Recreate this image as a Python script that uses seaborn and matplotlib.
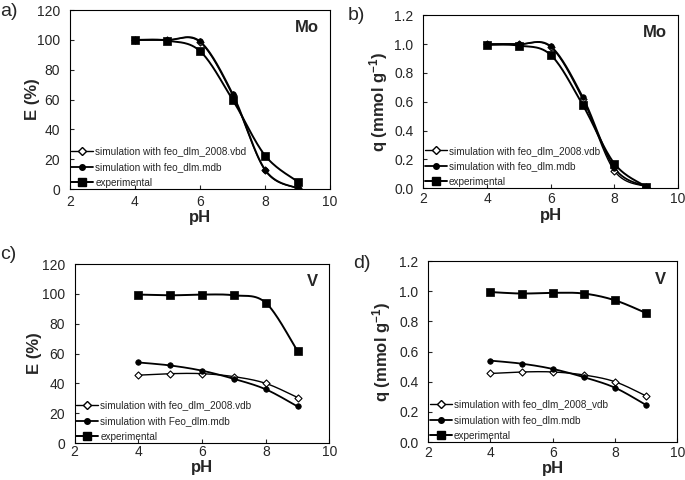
"""Mo / V removal vs pH: simulations against experiment, four panels."""

import matplotlib
matplotlib.use("Agg")
import matplotlib.pyplot as plt
from matplotlib.lines import Line2D
import numpy as np
import pandas as pd
import seaborn as sns

sns.set_theme(style="ticks")
plt.rcParams["font.family"] = ["Liberation Sans", "DejaVu Sans"]
plt.rcParams["mathtext.default"] = "regular"

ph = [4, 5, 6, 7, 8, 9]

# a) Mo, extraction %
mo_e_vbd = [100, 100, 98.5, 63, 12.5, 0.5]
mo_e_mdb = [100, 100, 99, 64, 13, 0.5]
mo_e_exp = [100, 99.5, 92.5, 60, 22.5, 5]

# b) Mo, uptake mmol/g
mo_q_vbd = [1.0, 1.0, 0.98, 0.62, 0.12, 0.01]
mo_q_mdb = [1.0, 1.0, 0.985, 0.635, 0.14, 0.01]
mo_q_exp = [0.995, 0.99, 0.925, 0.58, 0.17, 0.01]

# c) V, extraction %
v_e_vdb = [45.5, 46.5, 46.5, 44.5, 40, 30.5]
v_e_mdb = [54, 52, 48.5, 43, 36, 24.5]
v_e_exp = [99.5, 99, 99.5, 99, 94, 61.5]

# d) V, uptake mmol/g
v_q_vdb = [0.455, 0.465, 0.465, 0.445, 0.40, 0.305]
v_q_mdb = [0.54, 0.52, 0.485, 0.43, 0.36, 0.245]
v_q_exp = [0.995, 0.985, 0.99, 0.985, 0.94, 0.855]

labels_a = ["simulation with feo_dlm_2008.vbd", "simulation with feo_dlm.mdb", "experimental"]
labels_b = ["simulation with feo_dlm_2008.vdb", "simulation with feo_dlm.mdb", "experimental"]
labels_c = ["simulation with feo_dlm_2008.vdb", "simulation with Feo_dlm.mdb", "experimental"]
labels_d = ["simulation with feo_dlm_2008_vdb", "simulation with feo_dlm.mdb", "experimental"]


def smooth(x, y, n=30):
    """Excel-style smoothed line (Catmull-Rom Bezier through the points)."""
    p = np.column_stack([x, y]).astype(float)
    p = np.vstack([p[0], p, p[-1]])
    t = np.linspace(0, 1, n)[:, None]
    out = []
    for i in range(1, len(p) - 2):
        p0, p1, p2, p3 = p[i - 1], p[i], p[i + 1], p[i + 2]
        c1 = p1 + (p2 - p0) / 6
        c2 = p2 - (p3 - p1) / 6
        seg = ((1 - t) ** 3) * p1 + 3 * ((1 - t) ** 2) * t * c1 + 3 * (1 - t) * t ** 2 * c2 + t ** 3 * p2
        out.append(seg)
    out = np.vstack(out)
    return out[:, 0], out[:, 1]


STYLES = [
    dict(marker="D", s=13, facecolor="white", edgecolor="black", linewidth=0.8),
    dict(marker="o", s=16, facecolor="black", edgecolor="black", linewidth=0.5),
    dict(marker="s", s=30, facecolor="black", edgecolor="black", linewidth=0.5),
]
LW = [1.0, 1.3, 1.4]


def panel(ax, series, labels, ylim, yticks, ylabel, metal, fmt, xpad, ylab_x, xlab_y):
    for vals, lw in zip(series, LW):
        sx, sy = smooth(ph, vals)
        sns.lineplot(x=sx, y=sy, ax=ax, color="black", linewidth=lw, sort=False, estimator=None)
    for vals, st in zip(series, STYLES):
        df = pd.DataFrame({"pH": ph, "v": vals})
        sns.scatterplot(data=df, x="pH", y="v", ax=ax, zorder=3, **st)

    ax.set_xlim(2, 10)
    ax.set_ylim(*ylim)
    ax.set_xticks([2, 4, 6, 8, 10])
    ax.set_yticks(yticks)
    ax.set_yticklabels([fmt.format(v) for v in yticks])
    ax.set_xlabel("pH", fontsize=12, fontweight="bold")
    ax.set_ylabel(ylabel, fontsize=12, fontweight="bold")
    ax.xaxis.label.set_va("center")
    ax.yaxis.label.set_va("center")
    ax.xaxis.set_label_coords(0.5, xlab_y)
    ax.yaxis.set_label_coords(ylab_x, 0.5)
    ax.tick_params(direction="in", length=3, width=0.8, labelsize=10)
    ax.tick_params(axis="x", pad=xpad)
    ax.tick_params(axis="y", pad=7)
    for sp in ax.spines.values():
        sp.set_visible(True)
        sp.set_color("black")
        sp.set_linewidth(0.8)
    ax.text(0.955, 0.9, metal, transform=ax.transAxes, ha="right", va="center",
            fontsize=12, fontweight="bold")

    handles = []
    for st, lw in zip(STYLES, LW):
        handles.append(Line2D([], [], color="black", linewidth=lw, marker=st["marker"],
                              markersize=np.sqrt(st["s"]), markerfacecolor=st["facecolor"],
                              markeredgecolor="black"))
    ax.legend(handles, labels, loc="lower left", bbox_to_anchor=(0.0, 0.0),
              frameon=False, fontsize=7.2, handlelength=2.2, handletextpad=0.2,
              labelspacing=0.55, borderaxespad=0, borderpad=0.15)


fig = plt.figure(figsize=(6.85, 4.8), dpi=100)
ax_a = fig.add_axes([0.102, 0.606, 0.380, 0.373])
ax_b = fig.add_axes([0.618, 0.608, 0.372, 0.360])
ax_c = fig.add_axes([0.109, 0.077, 0.372, 0.373])
ax_d = fig.add_axes([0.625, 0.079, 0.364, 0.377])

e_ticks = [0, 20, 40, 60, 80, 100, 120]
q_ticks = [0.0, 0.2, 0.4, 0.6, 0.8, 1.0, 1.2]
q_label = "q (mmol g$^{-1}$)"

panel(ax_a, [mo_e_vbd, mo_e_mdb, mo_e_exp], labels_a, (0, 120), e_ticks, "E (%)", "Mo", "{:g}",
      4.3, -0.142, -0.16)
panel(ax_b, [mo_q_vbd, mo_q_mdb, mo_q_exp], labels_b, (0, 1.2), q_ticks, q_label, "Mo", "{:.1f}",
      3, -0.175, -0.158)
panel(ax_c, [v_e_vdb, v_e_mdb, v_e_exp], labels_c, (0, 120), e_ticks, "E (%)", "V", "{:g}",
      1.5, -0.157, -0.136)
panel(ax_d, [v_q_vdb, v_q_mdb, v_q_exp], labels_d, (0, 1.2), q_ticks, q_label, "V", "{:.1f}",
      2.5, -0.185, -0.145)

for txt, x, y in [("a)", 0.0, 0.975), ("b)", 0.508, 0.968), ("c)", 0.0, 0.47), ("d)", 0.515, 0.45)]:
    fig.text(x, y, txt, fontsize=14, ha="left", va="center")

fig.savefig("out.png", dpi=100)
